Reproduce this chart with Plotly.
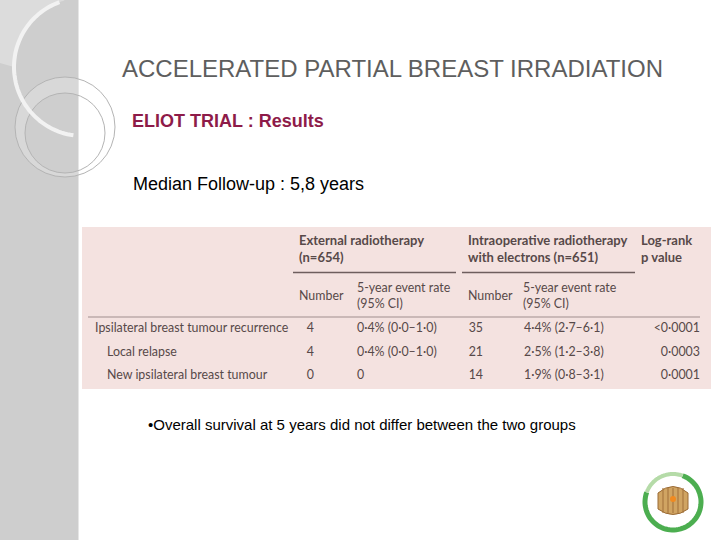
import math
import plotly.graph_objects as go

# slide text
title = "ACCELERATED PARTIAL BREAST IRRADIATION"
subtitle = "ELIOT TRIAL : Results"
follow_up = "Median Follow-up : 5,8 years"
bullet = "•Overall survival at 5 years did not differ between the two groups"

# table data
group_headers = ["External radiotherapy<br>(n=654)",
                 "Intraoperative radiotherapy<br>with electrons (n=651)",
                 "Log-rank<br>p value"]
sub_headers = ["Number", "5-year event rate<br>(95% CI)",
               "Number", "5-year event rate<br>(95% CI)"]
row_labels = ["Ipsilateral breast tumour recurrence", "Local relapse",
              "New ipsilateral breast tumour"]
row_indent = [0, 1, 1]
ext_number = [4, 4, 0]
ext_rate = ["0·4% (0·0–1·0)", "0·4% (0·0–1·0)", "0"]
iort_number = [35, 21, 14]
iort_rate = ["4·4% (2·7–6·1)", "2·5% (1·2–3·8)", "1·9% (0·8–3·1)"]
p_values = ["<0·0001", "0·0003", "0·0001"]

# layout (pixels, y downwards)
row_y = [329, 353, 376]
group_x = [299, 468, 641]
group_y = 250.5
sub_x = [299, 357, 468, 523]
sub_y = 296.5
label_x = 95
indent_px = 12
ext_num_right = 314
ext_rate_x = 357
iort_num_right = 483
iort_rate_x = 524
p_right = 700

TXT = "#574949"
TFONT = "Lato, sans-serif"


def arc_path(cx, cy, r, a0, a1, n=60):
    pts = []
    for i in range(n + 1):
        a = math.radians(a0 + (a1 - a0) * i / n)
        pts.append((cx + r * math.cos(a), cy + r * math.sin(a)))
    return "M " + " L ".join(f"{x:.1f},{y:.1f}" for x, y in pts)


fig = go.Figure()


def add_text(xs, ys, texts, pos, size=12.4, color=TXT, bold=False):
    fig.add_trace(go.Scatter(
        x=xs, y=ys, text=texts, mode="text", textposition=pos,
        textfont=dict(family=TFONT, size=size, color=color,
                      weight="bold" if bold else "normal"),
        hoverinfo="skip", showlegend=False))


# header rows
add_text(group_x, [group_y] * 3, group_headers, "middle right", size=13, bold=True)
add_text(sub_x, [sub_y] * 4, sub_headers, "middle right")

# body rows
add_text([label_x + indent_px * k for k in row_indent], row_y, row_labels, "middle right")
add_text([ext_num_right] * 3, row_y, [str(v) for v in ext_number], "middle left")
add_text([ext_rate_x] * 3, row_y, ext_rate, "middle right")
add_text([iort_num_right] * 3, row_y, [str(v) for v in iort_number], "middle left")
add_text([iort_rate_x] * 3, row_y, iort_rate, "middle right")
add_text([p_right] * 3, row_y, p_values, "middle left")

shapes = []
# left decorative strip
shapes.append(dict(type="rect", x0=0, x1=78, y0=0, y1=540, fillcolor="#cecece", line_width=0, layer="below"))
shapes.append(dict(type="path", path="M 0,0 L 63,0 " + arc_path(83, 67, 69, 256, 180)[1:].replace("M", "L") + " L 0,63 Z",
                   fillcolor="#dcdcdc", line_width=0, layer="below"))
shapes.append(dict(type="circle", x0=15, x1=115, y0=77, y1=177, fillcolor="#d8d8d8", line_width=0, layer="below"))
shapes.append(dict(type="circle", x0=25, x1=105, y0=93, y1=173, fillcolor="#cecece", line_width=0, layer="below"))
shapes.append(dict(type="rect", x0=79, x1=720, y0=0, y1=540, fillcolor="white", line_width=0, layer="below"))
shapes.append(dict(type="line", x0=78.5, x1=78.5, y0=0, y1=540, line=dict(color="#e6e6e6", width=1), layer="below"))
shapes.append(dict(type="circle", x0=15, x1=115, y0=77, y1=177, line=dict(color="#b4b4b4", width=1), layer="below"))
shapes.append(dict(type="circle", x0=25, x1=105, y0=93, y1=173, line=dict(color="#b4b4b4", width=1), layer="below"))
shapes.append(dict(type="path", path=arc_path(83, 67, 69, 250, 98), line=dict(color="#f2f2f2", width=4), layer="below"))

# table background and rules
shapes.append(dict(type="rect", x0=82, x1=711, y0=227, y1=389, fillcolor="#f4e2e0", line_width=0, layer="below"))
shapes.append(dict(type="line", x0=293, x1=456, y0=272.5, y1=272.5, line=dict(color="#6e5e5e", width=1.5)))
shapes.append(dict(type="line", x0=462, x1=635, y0=272.5, y1=272.5, line=dict(color="#6e5e5e", width=1.5)))
shapes.append(dict(type="line", x0=88, x1=700, y0=317, y1=317, line=dict(color="#a08e8e", width=1)))

# logo
shapes.append(dict(type="path", path=arc_path(673, 502, 28, -70, 200), line=dict(color="#4cae50", width=5)))
shapes.append(dict(type="path", path=arc_path(673, 502, 28, 200, 290), line=dict(color="#b5dba8", width=4)))
shapes.append(dict(type="path", path="M 658,493 Q 673,480 688,493 L 688,509 Q 673,520 658,509 Z",
                   fillcolor="#d0a462", line=dict(color="#9a6a35", width=1)))
for dx in (-10, -5, 0, 5, 10):
    shapes.append(dict(type="line", x0=673 + dx, x1=673 + dx, y0=488, y1=513, line=dict(color="#a87840", width=1.2)))
shapes.append(dict(type="circle", x0=670, x1=676, y0=496, y1=502, fillcolor="#f08a20", line_width=0))

annotations = [
    dict(x=120, y=68, text=title, xanchor="left", yanchor="middle", showarrow=False,
         font=dict(family="Liberation Sans, Arial", size=24, color="#5e5e5e")),
    dict(x=130, y=121, text=subtitle, xanchor="left", yanchor="middle", showarrow=False,
         font=dict(family="Liberation Sans, Arial", size=18, color="#8e1b49", weight="bold")),
    dict(x=131, y=184, text=follow_up, xanchor="left", yanchor="middle", showarrow=False,
         font=dict(family="Liberation Sans, Arial", size=18, color="#000000")),
    dict(x=146, y=424, text=bullet, xanchor="left", yanchor="middle", showarrow=False,
         font=dict(family="Liberation Sans, Arial", size=15, color="#000000")),
]

fig.update_layout(
    width=720, height=540,
    margin=dict(l=0, r=0, t=0, b=0),
    paper_bgcolor="white", plot_bgcolor="white",
    xaxis=dict(range=[0, 720], visible=False, fixedrange=True),
    yaxis=dict(range=[540, 0], visible=False, fixedrange=True),
    shapes=shapes, annotations=annotations,
    showlegend=False,
)

# drop the browser's default page margin so the 720x540 figure fills the window
fig.write_html("out.html", config={"displayModeBar": False},
               post_script="document.body.style.margin='0';document.body.style.overflow='hidden';")
